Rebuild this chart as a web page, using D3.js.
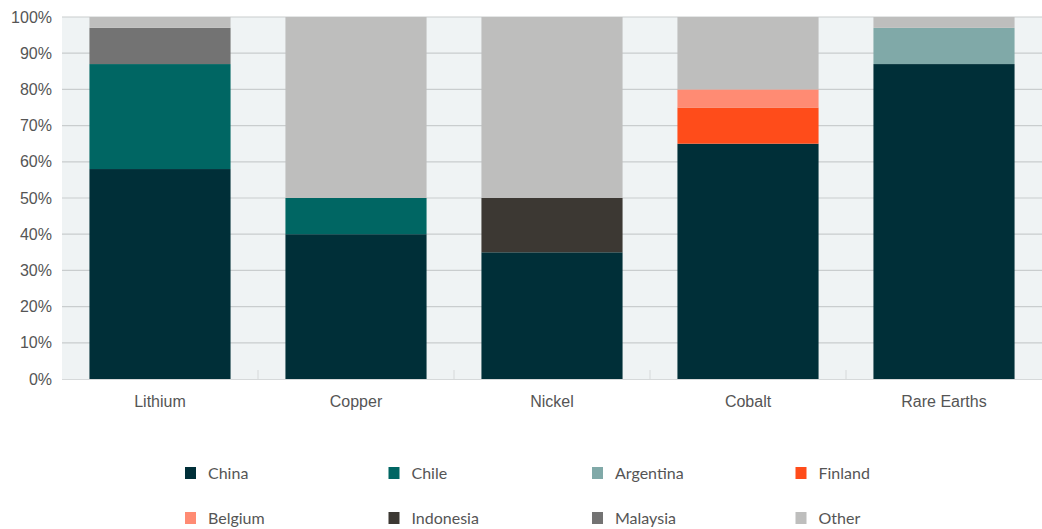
<!DOCTYPE html>
<html>
<head>
<meta charset="utf-8">
<script src="https://cdn.jsdelivr.net/npm/d3@7"></script>
<style>
  body { margin: 0; background: #ffffff; }
  svg { display: block; font-family: Lato, "Open Sans", sans-serif; }
</style>
</head>
<body>
<div id="chart"></div>
<script>
// ============================================
// DATA
// ============================================

const minerals = ["Lithium", "Copper", "Nickel", "Cobalt", "Rare Earths"];
const countries = ["China", "Chile", "Argentina", "Finland", "Belgium", "Indonesia", "Malaysia", "Other"];

// share (%) per country, one value per mineral
const china     = [58, 40, 35, 65, 87];
const chile     = [29, 10, 0, 0, 0];
const argentina = [0, 0, 0, 0, 10];
const finland   = [0, 0, 0, 10, 0];
const belgium   = [0, 0, 0, 5, 0];
const indonesia = [0, 0, 15, 0, 0];
const malaysia  = [10, 0, 0, 0, 0];
const other     = [3, 50, 50, 20, 3];

const yTicks = [0, 10, 20, 30, 40, 50, 60, 70, 80, 90, 100];

const COLORS = {
  China: "#002f38",
  Chile: "#006663",
  Argentina: "#80a9a8",
  Finland: "#ff4c1a",
  Belgium: "#ff8b73",
  Indonesia: "#3c3833",
  Malaysia: "#737373",
  Other: "#bebebd",
};

// ============================================
// SETUP
// ============================================

const width = 1042;
const height = 529;
const margin = { top: 17, right: 0, bottom: 150, left: 62 };
const innerW = width - margin.left - margin.right;
const innerH = height - margin.top - margin.bottom;

const svg = d3.select("#chart")
  .append("svg")
  .attr("width", width)
  .attr("height", height);

const g = svg.append("g")
  .attr("transform", `translate(${margin.left},${margin.top})`);

const table = minerals.map((m, i) => ({
  mineral: m,
  China: china[i],
  Chile: chile[i],
  Argentina: argentina[i],
  Finland: finland[i],
  Belgium: belgium[i],
  Indonesia: indonesia[i],
  Malaysia: malaysia[i],
  Other: other[i],
}));

const x = d3.scaleBand().domain(minerals).range([0, innerW]).paddingInner(0.28).paddingOuter(0.14);
const xOuter = d3.scaleBand().domain(minerals).range([0, innerW]).padding(0);
const y = d3.scaleLinear().domain([0, 100]).range([innerH, 0]);

// plot background
g.append("rect")
  .attr("width", innerW)
  .attr("height", innerH)
  .attr("fill", "#eff3f4");

// gridlines
g.append("g")
  .selectAll("line")
  .data(yTicks.filter((t) => t > 0))
  .join("line")
  .attr("x1", 0)
  .attr("x2", innerW)
  .attr("y1", (d) => y(d))
  .attr("y2", (d) => y(d))
  .attr("stroke", "#c9cdce")
  .attr("stroke-width", 1.2);

// category boundary ticks
g.append("g")
  .selectAll("line")
  .data(minerals.slice(1))
  .join("line")
  .attr("x1", (d) => xOuter(d))
  .attr("x2", (d) => xOuter(d))
  .attr("y1", innerH - 9)
  .attr("y2", innerH)
  .attr("stroke", "#d6d9da")
  .attr("stroke-width", 1);

// ============================================
// BARS
// ============================================

const stack = d3.stack().keys(countries);
const series = stack(table);

g.append("g")
  .selectAll("g")
  .data(series)
  .join("g")
  .attr("fill", (d) => COLORS[d.key])
  .selectAll("rect")
  .data((d) => d.filter((p) => p[1] - p[0] > 0))
  .join("rect")
  .attr("x", (d) => x(d.data.mineral))
  .attr("y", (d) => y(d[1]))
  .attr("width", x.bandwidth())
  .attr("height", (d) => y(d[0]) - y(d[1]));

// baseline
g.append("line")
  .attr("x1", 0)
  .attr("x2", innerW)
  .attr("y1", innerH + 0.5)
  .attr("y2", innerH + 0.5)
  .attr("stroke", "#d6d9da");

// ============================================
// AXES
// ============================================

const yAxis = g.append("g")
  .call(d3.axisLeft(y).tickValues(yTicks).tickFormat((d) => d + "%").tickSize(0).tickPadding(10));
yAxis.select(".domain").remove();
yAxis.selectAll("text")
  .attr("fill", "#555555")
  .style("font-size", "16px");

const xAxis = g.append("g")
  .attr("transform", `translate(0,${innerH})`)
  .call(d3.axisBottom(x).tickSize(0).tickPadding(17));
xAxis.select(".domain").remove();
xAxis.selectAll("text")
  .attr("fill", "#555555")
  .style("font-size", "16px");

// ============================================
// LEGEND
// ============================================

const legend = svg.append("g");
const colW = 203.5;
const rowH = 45;

const item = legend.selectAll("g")
  .data(countries)
  .join("g")
  .attr("transform", (d, i) => `translate(${185 + (i % 4) * colW},${467 + Math.floor(i / 4) * rowH})`);

item.append("rect")
  .attr("width", 11)
  .attr("height", 12)
  .attr("fill", (d) => COLORS[d]);

item.append("text")
  .attr("x", 23)
  .attr("y", 6)
  .attr("dy", "0.35em")
  .attr("fill", "#555555")
  .style("font-size", "16px")
  .text((d) => d);
</script>
</body>
</html>
